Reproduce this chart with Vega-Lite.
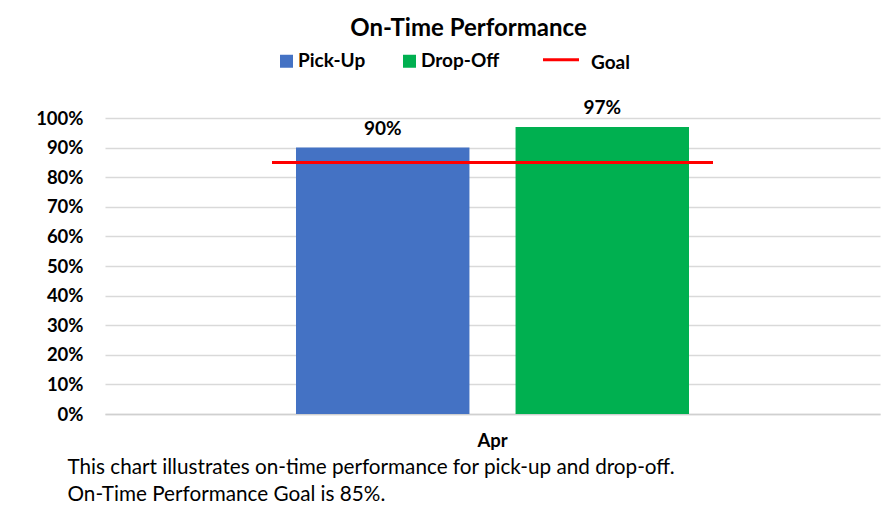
{
  "$schema": "https://vega.github.io/schema/vega-lite/v6.json",
  "width": 775,
  "height": 296,
  "autosize": {"type": "none"},
  "padding": {"left": 105, "top": 118, "right": 3, "bottom": 93},
  "background": "white",
  "title": {
    "text": "On-Time Performance",
    "font": "Lato",
    "fontSize": 24,
    "fontWeight": "bold",
    "color": "#000000",
    "anchor": "middle",
    "frame": "group",
    "dx": -24,
    "offset": 9
  },
  "datasets": {
    "bars": [
      {"month": "Apr", "series": "Pick-Up", "value": 0.90},
      {"month": "Apr", "series": "Drop-Off", "value": 0.97}
    ],
    "goal": [
      {"month": "Apr", "series": "Goal", "value": 0.85}
    ]
  },
  "config": {
    "view": {"stroke": null},
    "font": "Lato"
  },
  "encoding": {
    "x": {
      "field": "month",
      "type": "nominal",
      "scale": {"paddingInner": 0, "paddingOuter": 0.486},
      "axis": {
        "labelAngle": 0,
        "labelFont": "Lato",
        "labelFontSize": 18.5,
        "labelFontWeight": "bold",
        "labelColor": "#000000",
        "labelPadding": 17,
        "ticks": false,
        "domain": true,
        "domainColor": "#d0d0d0",
        "domainWidth": 1.5,
        "title": ["This chart illustrates on-time performance for pick-up and drop-off.", "On-Time Performance Goal is 85%."],
        "titleFont": "Lato",
        "titleFontSize": 20.7,
        "titleFontWeight": "normal",
        "titleColor": "#000000",
        "titleLineHeight": 27,
        "titleAnchor": "start",
        "titleAlign": "left",
        "titleBaseline": "alphabetic",
        "titleX": -38,
        "titleY": 59
      }
    },
    "y": {
      "field": "value",
      "type": "quantitative",
      "scale": {"domain": [0, 1]},
      "axis": {
        "values": [0, 0.1, 0.2, 0.3, 0.4, 0.5, 0.6, 0.7, 0.8, 0.9, 1],
        "tickCount": 11,
        "format": ".0%",
        "title": null,
        "domain": false,
        "ticks": false,
        "labelOverlap": false,
        "gridColor": "#d9d9d9",
        "gridWidth": 1.5,
        "labelFont": "Lato",
        "labelFontSize": 18.5,
        "labelFontWeight": "bold",
        "labelColor": "#000000",
        "labelPadding": 22
      }
    }
  },
  "layer": [
    {
      "data": {"name": "bars"},
      "mark": {"type": "bar"},
      "encoding": {
        "xOffset": {
          "field": "series",
          "type": "nominal",
          "sort": ["Pick-Up", "Drop-Off"],
          "scale": {"paddingInner": 0.21, "paddingOuter": 0}
        },
        "color": {
          "field": "series",
          "type": "nominal",
          "scale": {
            "domain": ["Pick-Up", "Drop-Off", "Goal"],
            "range": ["#4472C4", "#00B050", "#FF0000"]
          },
          "legend": {
            "title": null,
            "orient": "none",
            "direction": "horizontal",
            "legendX": 175,
            "legendY": -68,
            "symbolType": "square",
            "symbolSize": 169,
            "symbolOpacity": 1,
            "labelFont": "Lato",
            "labelFontSize": 19,
            "labelFontWeight": "bold",
            "labelColor": "#000000",
            "labelOffset": -1,
            "columnPadding": 37,
            "encode": {
              "symbols": {
                "update": {
                  "shape": {"signal": "datum.value === 'Goal' ? 'stroke' : 'square'"},
                  "size": {"signal": "datum.value === 'Goal' ? 1296 : 169"},
                  "x": {"signal": "datum.value === 'Goal' ? 0 : 6.5"},
                  "stroke": {"signal": "datum.value === 'Goal' ? '#FF0000' : 'transparent'"},
                  "strokeWidth": {"signal": "datum.value === 'Goal' ? 3 : 0"}
                }
              },
              "labels": {
                "update": {
                  "dx": {"signal": "datum.value === 'Goal' ? 12 : 0"},
                  "dy": {"signal": "datum.value === 'Goal' ? 3 : 0"}
                }
              }
            }
          }
        }
      }
    },
    {
      "data": {"name": "bars"},
      "mark": {"type": "text", "baseline": "alphabetic", "dy": -13, "font": "Lato", "fontSize": 19, "fontWeight": "bold", "color": "#000000"},
      "encoding": {
        "xOffset": {"field": "series", "type": "nominal", "sort": ["Pick-Up", "Drop-Off"]},
        "text": {"field": "value", "type": "quantitative", "format": ".0%"}
      }
    },
    {
      "data": {"name": "goal"},
      "mark": {"type": "tick", "size": 441, "thickness": 3, "opacity": 1},
      "encoding": {
        "color": {"field": "series", "type": "nominal"}
      }
    }
  ]
}
